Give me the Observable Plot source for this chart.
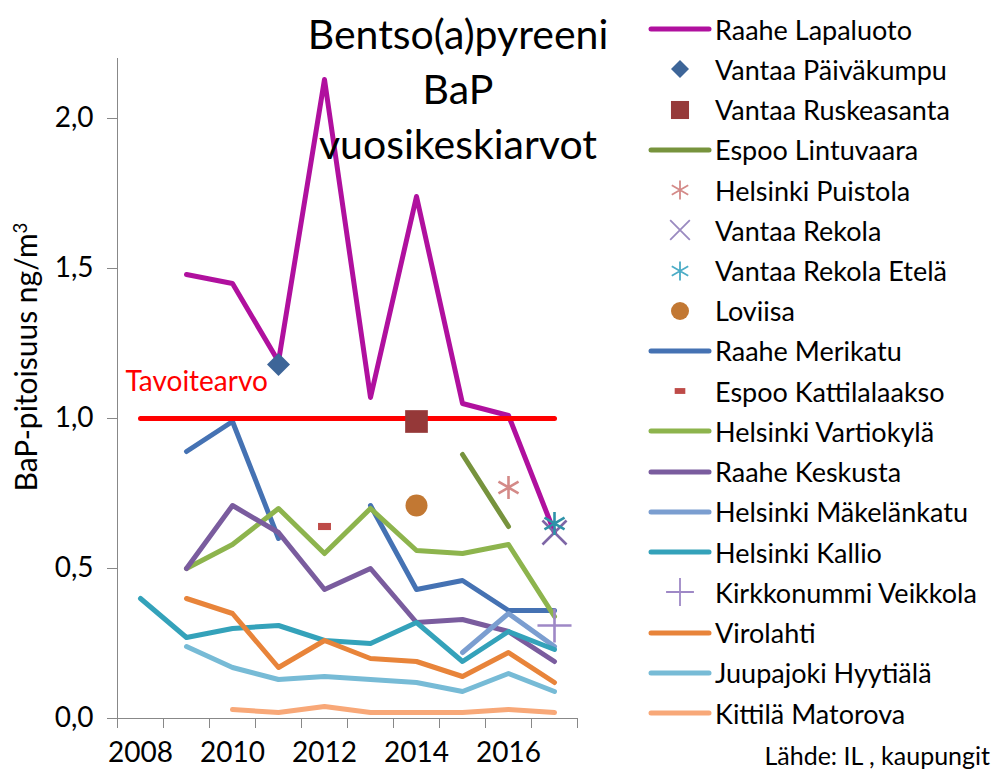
<!DOCTYPE html>
<html><head><meta charset="utf-8">
<script src="https://cdn.jsdelivr.net/npm/d3@7"></script>
<script src="https://cdn.jsdelivr.net/npm/@observablehq/plot@0.6"></script>
<style>
body{margin:0;background:#fff;}
#wrap{position:relative;width:1001px;height:778px;font-family:Lato,"Open Sans",sans-serif;color:#000;overflow:hidden;}
#wrap svg.plot{position:absolute;left:0;top:0;}
#title{position:absolute;left:258px;width:400px;top:6px;text-align:center;font-size:41px;line-height:55px;}
#ylabel{position:absolute;left:25px;top:357px;transform:translate(-50%,-50%) rotate(-90deg);white-space:nowrap;font-size:30px;}
#ylabel sup{font-size:0.62em;vertical-align:0.55em;line-height:0;}
#legend{position:absolute;left:648px;top:9px;}
.row{display:flex;align-items:center;height:40.24px;font-size:27px;white-space:nowrap;}
.row svg{width:64px;height:30px;flex:none;margin-right:3px;}
#source{position:absolute;right:11px;top:740px;font-size:25px;}
</style></head><body>
<div id="wrap"></div>
<script>
// ---- data ----
const years = [2008, 2009, 2010, 2011, 2012, 2013, 2014, 2015, 2016, 2017];
const xTickLabels = [2008, 2010, 2012, 2014, 2016];
const yTicks = [0, 0.5, 1.0, 1.5, 2.0];

const raaheLapaluoto     = [null, 1.48, 1.45, 1.19, 2.13, 1.07, 1.74, 1.05, 1.01, 0.62];
const espooLintuvaara    = [null, null, null, null, null, null, null, 0.88, 0.64, null];
const raaheMerikatu      = [null, 0.89, 0.99, 0.60, null, 0.71, 0.43, 0.46, 0.36, 0.36];
const helsinkiVartiokyla = [null, 0.50, 0.58, 0.70, 0.55, 0.70, 0.56, 0.55, 0.58, 0.34];
const raaheKeskusta      = [null, 0.50, 0.71, 0.62, 0.43, 0.50, 0.32, 0.33, 0.29, 0.19];
const helsinkiMakelankatu= [null, null, null, null, null, null, null, 0.22, 0.35, 0.24];
const helsinkiKallio     = [0.40, 0.27, 0.30, 0.31, 0.26, 0.25, 0.32, 0.19, 0.29, 0.23];
const virolahti          = [null, 0.40, 0.35, 0.17, 0.26, 0.20, 0.19, 0.14, 0.22, 0.12];
const juupajokiHyytiala  = [null, 0.24, 0.17, 0.13, 0.14, 0.13, 0.12, 0.09, 0.15, 0.09];
const kittilaMatorova    = [null, null, 0.03, 0.02, 0.04, 0.02, 0.02, 0.02, 0.03, 0.02];

// single-point stations: [year, value]
const vantaaPaivakumpu   = [2011, 1.18];
const vantaaRuskeasanta  = [2014, 0.99];
const helsinkiPuistola   = [2016, 0.77];
const vantaaRekola       = [2017, 0.62];
const vantaaRekolaEtela  = [2017, 0.65];
const loviisa            = [2014, 0.71];
const espooKattilalaakso = [2012, 0.64];
const kirkkonummiVeikkola= [2017, 0.31];

const target = [{label: "Tavoitearvo", value: 1.0, from: 2008, to: 2017}];

// ---- series styling ----
const dash = {draw(ctx, size) { const w = Math.sqrt(size) * 1.0, h = w * 0.55; ctx.rect(-w / 2, -h / 2, w, h); }};
const series = [
  {name: "Raahe Lapaluoto",      type: "line", values: raaheLapaluoto,      color: "#B0109E"},
  {name: "Vantaa Päiväkumpu",    type: "dot",  point: vantaaPaivakumpu,     color: "#3D6598", symbol: "square", rotate: 45, r: 9.2, fill: true, lr: 7.2},
  {name: "Vantaa Ruskeasanta",   type: "dot",  point: vantaaRuskeasanta,    color: "#953838", symbol: "square", r: 12.8, fill: true, lr: 10.2},
  {name: "Espoo Lintuvaara",     type: "line", values: espooLintuvaara,     color: "#77933D"},
  {name: "Helsinki Puistola",    type: "dot",  point: helsinkiPuistola,     color: "#D48A88", symbol: "asterisk", r: 11, fill: false, lr: 9},
  {name: "Vantaa Rekola",        type: "dot",  point: vantaaRekola,         color: "#7E66A6", symbol: "times", r: 11, fill: false, lr: 9, legendColor: "#9A8AC0"},
  {name: "Vantaa Rekola Etelä",  type: "dot",  point: vantaaRekolaEtela,    color: "#2E92A8", symbol: "asterisk", r: 11, fill: false, lr: 9, legendColor: "#4BACC6"},
  {name: "Loviisa",              type: "dot",  point: loviisa,              color: "#C27833", symbol: "circle", r: 11, fill: true, lr: 9},
  {name: "Raahe Merikatu",       type: "line", values: raaheMerikatu,       color: "#4572B3"},
  {name: "Espoo Kattilalaakso",  type: "dot",  point: espooKattilalaakso,   color: "#BE4B48", symbol: dash, r: 7.3, fill: true, lr: 6},
  {name: "Helsinki Vartiokylä",  type: "line", values: helsinkiVartiokyla,  color: "#8DB44D"},
  {name: "Raahe Keskusta",       type: "line", values: raaheKeskusta,       color: "#7A5C9E"},
  {name: "Helsinki Mäkelänkatu", type: "line", values: helsinkiMakelankatu, color: "#7B9ED0"},
  {name: "Helsinki Kallio",      type: "line", values: helsinkiKallio,      color: "#34A2BA"},
  {name: "Kirkkonummi Veikkola", type: "dot",  point: kirkkonummiVeikkola,  color: "#9E88C6", symbol: "plus", r: 11, fill: false, lr: 9},
  {name: "Virolahti",            type: "line", values: virolahti,           color: "#E8843A"},
  {name: "Juupajoki Hyytiälä",   type: "line", values: juupajokiHyytiala,   color: "#77BBD6"},
  {name: "Kittilä Matorova",     type: "line", values: kittilaMatorova,     color: "#F8A878"}
];

const bandEdges = years.map(y => y - 0.5).concat([years[years.length - 1] + 0.5]);
const fmt = d => d.toFixed(1).replace(".", ",");

const lineMarks = series.filter(s => s.type === "line").map(s =>
  Plot.line(years.map((yr, i) => ({year: yr, value: s.values[i]})), {
    x: "year", y: "value", stroke: s.color, strokeWidth: 5, strokeLinecap: "round", strokeLinejoin: "round", curve: "linear"
  })
);
const dotMarks = series.filter(s => s.type === "dot").map(s =>
  Plot.dot([{year: s.point[0], value: s.point[1]}], {
    x: "year", y: "value", symbol: s.symbol, r: s.r, rotate: s.rotate || 0,
    fill: s.fill ? s.color : "none", stroke: s.fill ? "none" : s.color, strokeWidth: s.fill ? 0 : 2.6
  })
);

const chart = Plot.plot({
  width: 1001, height: 778,
  marginLeft: 117, marginRight: 424, marginTop: 58, marginBottom: 60,
  x: {domain: [bandEdges[0], bandEdges[bandEdges.length - 1]]},
  y: {domain: [0, 2.2]},
  style: {fontFamily: "Lato, 'Open Sans', sans-serif", background: "transparent", color: "#000"},
  marks: [
    Plot.axisY({ticks: yTicks, tickFormat: fmt, tickSize: 10, tickPadding: 14, fontSize: 28, stroke: "#888", label: null}),
    Plot.axisX({ticks: bandEdges, tickFormat: () => "", tickSize: 10, stroke: "#888", label: null}),
    Plot.axisX({ticks: xTickLabels, tickFormat: d => String(d), tickSize: 0, tickPadding: 24, fontSize: 28, label: null}),
    Plot.ruleX([bandEdges[0]], {stroke: "#888"}),
    Plot.ruleY([0], {stroke: "#888"}),
    ...lineMarks,
    Plot.link(target, {x1: "from", x2: "to", y1: "value", y2: "value", stroke: "#FF0000", strokeWidth: 5, strokeLinecap: "round"}),
    Plot.text(target, {x: "from", y: "value", text: "label", fill: "#FF0000", fontSize: 28, textAnchor: "start", dx: -15, dy: -36}),
    ...dotMarks
  ]
});

const wrap = document.getElementById("wrap");
wrap.appendChild(chart);

const title = document.createElement("div");
title.id = "title";
title.innerHTML = "Bentso(a)pyreeni<br>BaP<br>vuosikeskiarvot";
wrap.appendChild(title);

const ylab = document.createElement("div");
ylab.id = "ylabel";
ylab.innerHTML = "BaP-pitoisuus ng/m<sup>3</sup>";
wrap.appendChild(ylab);

const legend = document.createElement("div");
legend.id = "legend";
for (const s of series) {
  const row = document.createElement("div");
  row.className = "row";
  const svg = d3.create("svg").attr("viewBox", "0 0 64 30");
  if (s.type === "line") {
    svg.append("line").attr("x1", 3).attr("x2", 61).attr("y1", 15).attr("y2", 15)
      .attr("stroke", s.color).attr("stroke-width", 5).attr("stroke-linecap", "round");
  } else {
    const sym = typeof s.symbol === "string" ? {
      square: d3.symbolSquare, asterisk: d3.symbolAsterisk, times: d3.symbolTimes,
      circle: d3.symbolCircle, plus: d3.symbolPlus
    }[s.symbol] : s.symbol;
    const c = s.legendColor || s.color;
    svg.append("path").attr("d", d3.symbol(sym, Math.PI * s.lr * s.lr)())
      .attr("transform", `translate(32,15) rotate(${s.rotate || 0})`)
      .attr("fill", s.fill ? c : "none").attr("stroke", s.fill ? "none" : c).attr("stroke-width", s.fill ? 0 : 1.8);
  }
  row.appendChild(svg.node());
  const span = document.createElement("span");
  span.textContent = s.name;
  row.appendChild(span);
  legend.appendChild(row);
}
wrap.appendChild(legend);

const src = document.createElement("div");
src.id = "source";
src.textContent = "Lähde: IL , kaupungit";
wrap.appendChild(src);
</script>
</body></html>
